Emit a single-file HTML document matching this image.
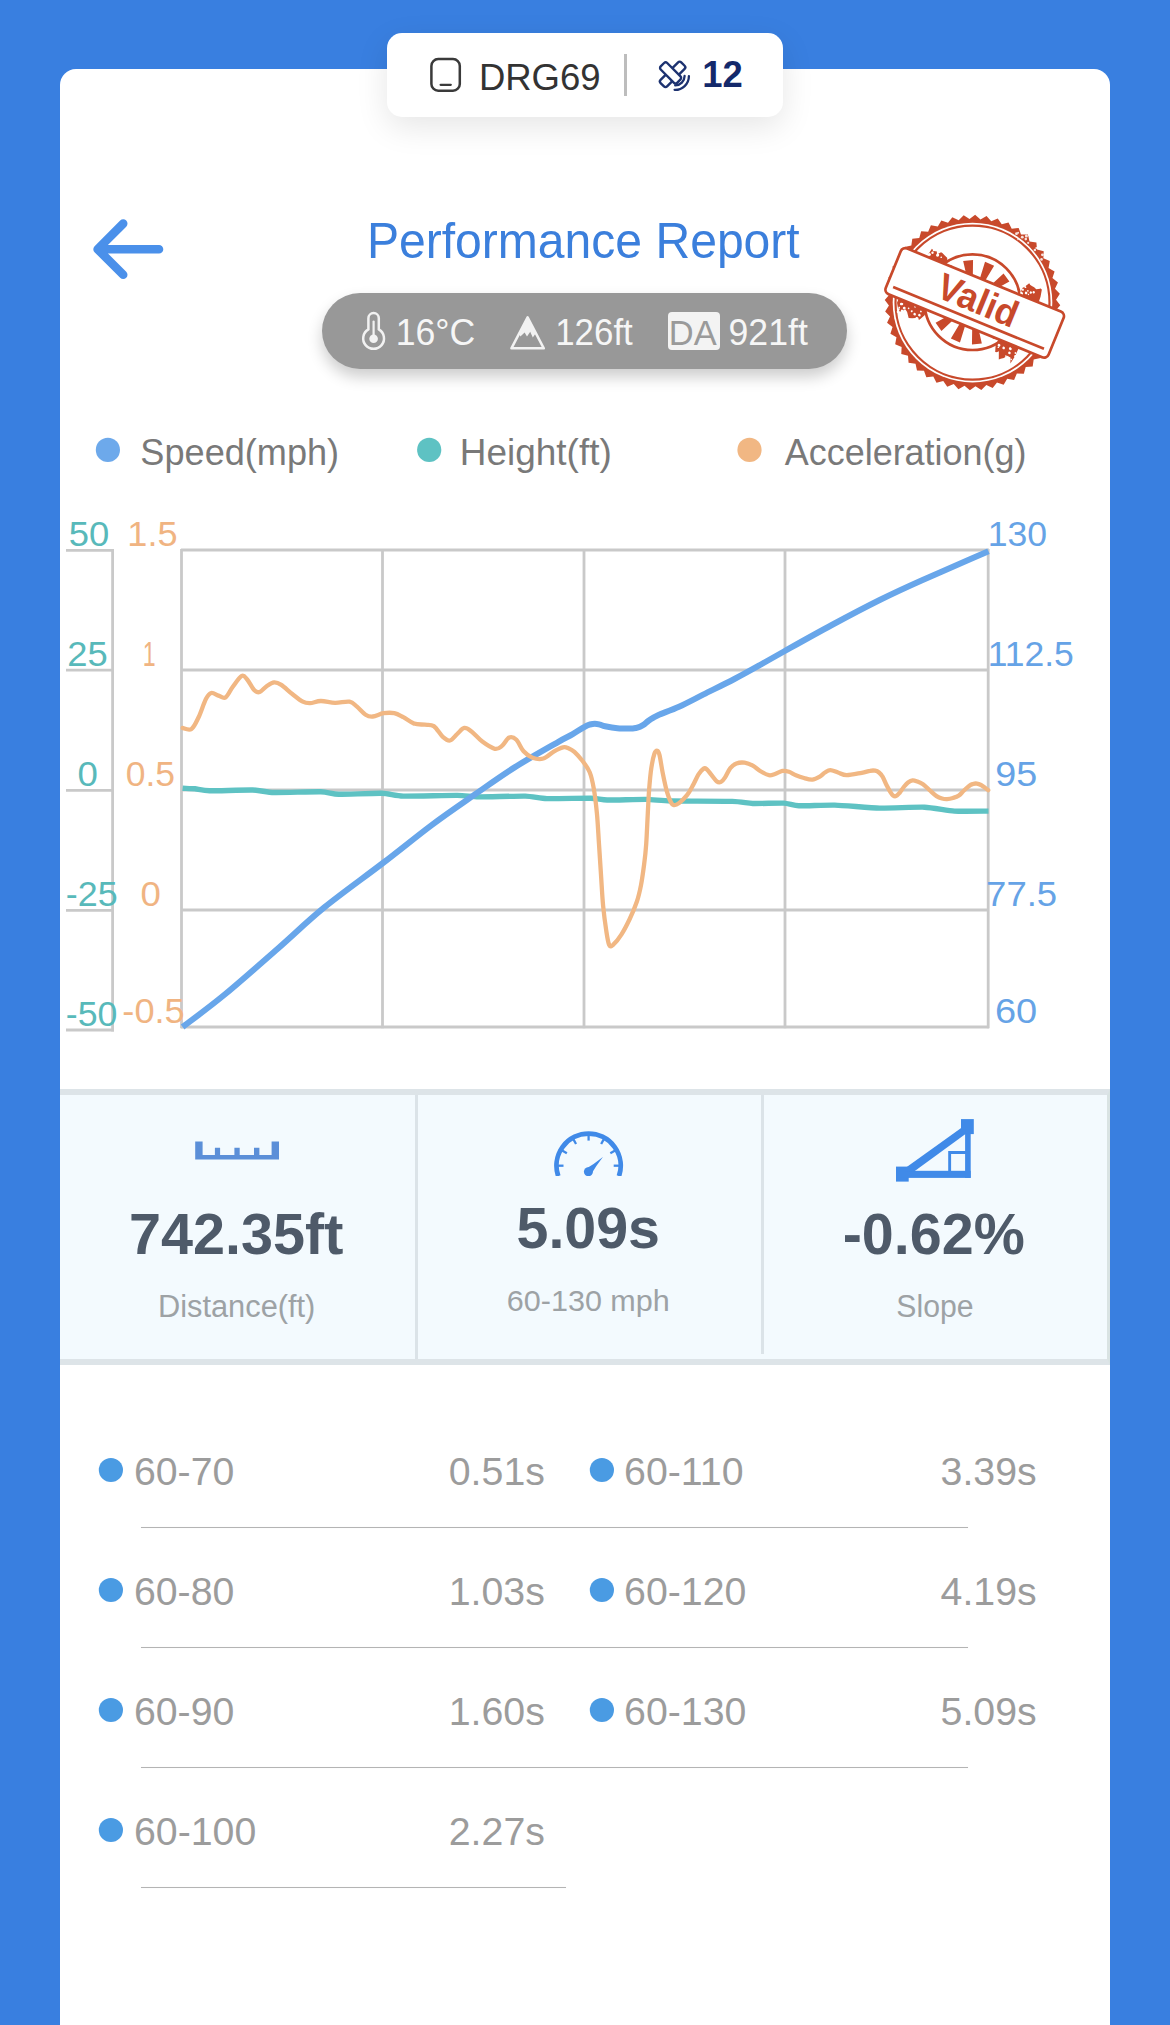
<!DOCTYPE html>
<html lang="en">
<head>
<meta charset="utf-8">
<title>Performance Report</title>
<style>
  html, body { margin: 0; padding: 0; }
  body {
    width: 1170px; height: 2025px; overflow: hidden; position: relative;
    background: #397fe0;
    font-family: "Liberation Sans", sans-serif;
  }
  .card {
    position: absolute; left: 60px; top: 69px; width: 1050px; height: 1960px;
    background: #ffffff; border-radius: 16px 16px 0 0;
  }
  .device-pill {
    position: absolute; left: 387px; top: 33px; width: 396px; height: 84px;
    background: #ffffff; border-radius: 15px;
    box-shadow: 0 10px 32px rgba(0, 0, 0, 0.10);
  }
  .device-pill .sep {
    position: absolute; left: 237px; top: 21px; width: 3px; height: 42px; background: #bdbdbd;
  }
  .env-pill {
    position: absolute; left: 322px; top: 293px; width: 525px; height: 76px;
    background: #989898; border-radius: 38px;
    box-shadow: 0 8px 15px rgba(0, 0, 0, 0.20);
  }
  .env-pill .da {
    position: absolute; left: 346px; top: 19px; width: 52px; height: 38px;
    background: #f3f3f3; border-radius: 4px;
  }
  .stats {
    position: absolute; left: 60px; top: 1089px; width: 1047px; height: 264px;
    background: #f3fafe;
    border-top: 6px solid #dde4e8; border-bottom: 6px solid #dde4e8; border-right: 3px solid #d9e3e3;
  }
  .stats .vsep { position: absolute; top: 0; width: 3px; background: #dbe3e8; }
  .row-sep { position: absolute; height: 1px; background: #b4b4b4; box-shadow: 0 0 1px rgba(0,0,0,0.10); }
  svg.overlay { position: absolute; left: 0; top: 0; }
  svg text { font-family: "Liberation Sans", sans-serif; }
</style>
</head>
<body>
  <div class="card"></div>
  <div class="device-pill"><div class="sep"></div></div>
  <div class="env-pill"><div class="da"></div></div>
  <div class="stats">
    <div class="vsep" style="left:355px;height:264px"></div>
    <div class="vsep" style="left:701px;height:259px"></div>
  </div>
  <div class="row-sep" style="left:141px;top:1527px;width:827px"></div>
  <div class="row-sep" style="left:141px;top:1647px;width:827px"></div>
  <div class="row-sep" style="left:141px;top:1767px;width:827px"></div>
  <div class="row-sep" style="left:141px;top:1887px;width:425px"></div>

  <svg class="overlay" width="1170" height="2025" viewBox="0 0 1170 2025">
    <!-- chart -->
    <line x1="181.5" y1="549" x2="181.5" y2="1028.2" stroke="#c9c9c9" stroke-width="2.8"/>
    <line x1="382.5" y1="549" x2="382.5" y2="1028.2" stroke="#c9c9c9" stroke-width="2.8"/>
    <line x1="584" y1="549" x2="584" y2="1028.2" stroke="#c9c9c9" stroke-width="2.8"/>
    <line x1="785" y1="549" x2="785" y2="1028.2" stroke="#c9c9c9" stroke-width="2.8"/>
    <line x1="988.2" y1="549" x2="988.2" y2="1028.2" stroke="#c9c9c9" stroke-width="2.8"/>
    <line x1="181" y1="550" x2="989" y2="550" stroke="#c9c9c9" stroke-width="2.8"/>
    <line x1="181" y1="670" x2="989" y2="670" stroke="#c9c9c9" stroke-width="2.8"/>
    <line x1="181" y1="790" x2="989" y2="790" stroke="#c9c9c9" stroke-width="2.8"/>
    <line x1="181" y1="910" x2="989" y2="910" stroke="#c9c9c9" stroke-width="2.8"/>
    <line x1="181" y1="1027" x2="989" y2="1027" stroke="#c9c9c9" stroke-width="2.8"/>
    <line x1="112.6" y1="549" x2="112.6" y2="1031.4" stroke="#c9c9c9" stroke-width="2.8"/>
    <line x1="66" y1="550.4" x2="114" y2="550.4" stroke="#c9c9c9" stroke-width="2.8"/>
    <line x1="66" y1="670.2" x2="114" y2="670.2" stroke="#c9c9c9" stroke-width="2.8"/>
    <line x1="66" y1="790.3" x2="114" y2="790.3" stroke="#c9c9c9" stroke-width="2.8"/>
    <line x1="66" y1="910.4" x2="114" y2="910.4" stroke="#c9c9c9" stroke-width="2.8"/>
    <line x1="66" y1="1030.0" x2="114" y2="1030.0" stroke="#c9c9c9" stroke-width="2.8"/>
    <path d="M182.6,788.2 C183.8,788.3 192.3,788.5 195.0,788.8 C197.7,789.1 203.7,790.7 209.5,790.8 C215.3,790.9 246.2,789.8 252.6,790.0 C259.1,790.2 267.2,792.3 274.0,792.5 C280.8,792.7 314.3,791.6 320.8,791.8 C327.3,792.0 332.6,794.1 338.7,794.3 C344.8,794.4 375.3,793.1 381.8,793.3 C388.3,793.5 395.8,795.9 403.3,796.1 C410.8,796.3 449.7,795.3 457.2,795.4 C464.7,795.5 471.9,796.8 478.7,796.9 C485.5,797.0 518.5,795.9 525.3,796.1 C532.1,796.3 540.4,798.4 546.9,798.6 C553.4,798.8 584.8,798.1 590.8,798.2 C596.8,798.3 601.7,799.9 607.2,800.0 C612.7,800.1 639.6,799.3 646.0,799.4 C652.4,799.5 662.2,800.8 670.8,801.0 C679.4,801.2 724.1,801.1 732.3,801.4 C740.5,801.6 747.7,803.3 752.8,803.5 C757.9,803.7 779.0,802.9 783.6,803.1 C788.2,803.3 793.8,805.5 798.9,805.7 C804.0,805.9 826.7,804.9 834.8,805.1 C842.9,805.3 870.7,807.9 879.7,808.1 C888.7,808.3 917.0,806.9 924.5,807.2 C932.0,807.5 948.0,810.7 954.4,811.1 C960.8,811.5 985.1,811.1 988.5,811.1" fill="none" stroke="#5ec2c3" stroke-width="5.4" stroke-linejoin="round"/>
    <path d="M182.6,1027.0 C189.5,1021.7 208.0,1008.3 223.8,995.3 C239.7,982.2 260.9,963.4 277.7,948.7 C294.4,934.1 306.6,921.8 324.3,907.4 C342.0,893.0 365.7,876.3 383.6,862.5 C401.6,848.7 416.8,836.2 432.0,824.8 C447.2,813.4 461.3,803.9 475.1,794.3 C488.9,784.7 500.9,776.1 514.6,767.4 C528.4,758.7 548.0,747.8 557.6,742.3 C567.2,736.8 567.8,737.0 572.3,734.4 C576.8,731.8 581.6,728.4 584.6,726.8 C587.6,725.1 588.3,725.0 590.0,724.5 C591.7,724.0 593.2,723.7 594.9,723.7 C596.6,723.7 598.3,724.2 600.0,724.6 C601.7,725.0 602.2,725.6 605.1,726.2 C608.0,726.8 613.3,727.8 617.4,728.2 C621.5,728.6 626.6,728.6 629.7,728.6 C632.8,728.6 634.3,728.3 636.0,728.0 C637.7,727.7 638.7,727.4 640.0,726.8 C641.3,726.2 642.6,725.5 644.0,724.5 C645.4,723.5 646.7,722.1 648.2,721.0 C649.7,719.9 651.3,718.8 653.0,717.8 C654.7,716.8 654.2,716.8 658.5,714.9 C662.8,713.0 671.5,710.1 679.0,706.7 C686.5,703.3 694.4,699.0 703.6,694.4 C712.8,689.8 725.0,683.9 734.4,679.0 C743.8,674.1 751.8,669.6 760.0,665.0 C768.2,660.4 771.9,658.2 783.9,651.5 C795.9,644.8 815.8,633.6 831.8,625.0 C847.8,616.4 864.8,607.4 879.7,600.0 C894.7,592.6 906.5,587.2 921.5,580.5 C936.5,573.8 958.2,564.4 969.4,559.5 C980.6,554.6 985.3,552.6 988.5,551.2" fill="none" stroke="#68a6ea" stroke-width="6" stroke-linejoin="round"/>
    <path d="M182.6,728.0 C184.1,728.2 188.8,730.8 191.5,729.0 C194.2,727.2 196.3,722.0 198.7,717.0 C201.1,712.0 203.8,703.0 205.9,699.0 C208.0,695.0 209.2,693.6 211.3,693.0 C213.4,692.4 216.1,694.9 218.5,695.6 C220.9,696.3 223.2,698.9 225.6,697.4 C228.0,695.9 230.1,690.3 232.8,686.7 C235.5,683.1 239.4,677.1 241.8,675.9 C244.2,674.7 245.1,677.1 247.2,679.5 C249.3,681.9 252.3,688.2 254.4,690.3 C256.5,692.4 257.6,692.7 259.7,692.0 C261.8,691.3 264.5,687.6 266.9,686.0 C269.3,684.4 271.7,682.6 274.1,682.4 C276.5,682.2 278.3,683.0 281.3,684.9 C284.3,686.8 288.4,691.0 292.0,693.8 C295.6,696.6 299.8,700.1 302.8,701.7 C305.8,703.3 307.0,703.3 310.0,703.2 C313.0,703.1 316.6,701.1 320.8,701.0 C325.0,700.9 330.3,702.7 335.1,702.8 C339.9,702.9 345.9,701.1 349.5,701.7 C353.1,702.3 354.0,704.2 356.7,706.4 C359.4,708.6 362.9,713.0 365.6,714.7 C368.3,716.4 369.8,716.8 372.8,716.5 C375.8,716.2 380.0,713.8 383.6,713.2 C387.2,712.7 391.0,712.5 394.3,713.2 C397.6,713.9 400.0,715.5 403.3,717.2 C406.6,718.9 410.5,722.4 414.1,723.6 C417.7,724.9 421.6,724.3 424.9,724.7 C428.2,725.1 430.8,724.1 433.8,726.1 C436.8,728.1 440.1,734.5 442.8,736.9 C445.5,739.3 447.6,741.0 450.0,740.5 C452.4,740.0 454.8,736.1 457.2,734.0 C459.6,731.9 461.9,728.3 464.3,727.9 C466.7,727.5 468.5,729.2 471.5,731.5 C474.5,733.8 478.4,738.7 482.3,741.6 C486.2,744.5 491.5,748.1 494.8,748.8 C498.1,749.5 499.6,747.8 502.0,745.9 C504.4,744.0 506.8,738.6 509.2,737.6 C511.6,736.6 514.0,737.5 516.4,739.8 C518.8,742.1 520.9,748.3 523.6,751.3 C526.3,754.3 529.2,756.5 532.5,757.7 C535.8,758.9 539.7,759.6 543.3,758.5 C546.9,757.4 550.8,753.2 554.1,751.3 C557.4,749.4 560.7,747.8 563.0,747.3 C565.3,746.8 566.1,747.2 568.0,748.0 C569.9,748.8 572.0,749.6 574.4,751.8 C576.8,754.0 580.0,757.6 582.6,761.0 C585.2,764.4 587.8,767.7 589.7,772.3 C591.6,776.9 592.6,781.9 593.8,788.7 C595.0,795.5 596.0,804.1 596.9,813.3 C597.8,822.5 598.3,833.8 599.0,844.1 C599.7,854.4 600.3,864.6 601.0,874.9 C601.7,885.1 602.2,896.4 603.1,905.6 C604.0,914.8 605.2,923.7 606.2,930.3 C607.2,936.9 608.0,942.6 609.2,945.0 C610.4,947.4 611.2,946.4 613.3,944.6 C615.3,942.8 618.8,938.7 621.5,934.4 C624.2,930.1 627.1,924.5 629.7,919.0 C632.3,913.5 635.0,907.1 636.9,901.5 C638.8,895.9 639.8,891.2 641.0,885.1 C642.2,879.0 643.2,871.4 644.1,864.6 C645.0,857.8 645.6,852.7 646.2,844.1 C646.8,835.5 647.3,822.5 647.8,813.3 C648.3,804.1 648.6,796.2 649.2,788.7 C649.8,781.2 650.4,774.0 651.3,768.2 C652.2,762.4 653.4,756.7 654.4,753.8 C655.4,750.9 656.5,750.6 657.4,750.8 C658.2,751.0 658.6,751.3 659.5,754.9 C660.4,758.5 661.4,766.3 662.6,772.3 C663.8,778.3 665.3,785.8 666.7,790.8 C668.1,795.8 669.6,799.6 670.8,802.0 C672.0,804.4 672.4,804.9 673.8,805.1 C675.2,805.3 676.8,804.8 679.0,803.1 C681.2,801.4 684.8,798.0 687.2,794.9 C689.6,791.8 691.4,788.0 693.3,784.6 C695.2,781.2 696.8,777.1 698.5,774.4 C700.2,771.7 702.2,769.5 703.6,768.6 C705.0,767.7 705.3,768.1 706.7,769.2 C708.1,770.3 710.1,773.4 711.8,775.4 C713.5,777.4 715.4,780.4 716.9,781.5 C718.4,782.6 719.6,782.6 721.0,781.9 C722.4,781.2 723.6,779.7 725.1,777.4 C726.6,775.1 728.4,770.5 730.3,768.2 C732.2,765.9 734.0,764.4 736.4,763.5 C738.8,762.6 741.9,762.3 744.6,762.7 C747.3,763.1 750.1,764.2 752.8,765.7 C755.5,767.2 758.3,769.9 761.0,771.5 C763.7,773.1 766.7,774.8 769.0,775.2 C771.3,775.6 772.8,774.7 775.0,774.0 C777.2,773.3 780.1,771.3 782.4,770.9 C784.7,770.5 786.8,771.1 789.0,771.8 C791.2,772.5 793.4,774.2 795.9,775.2 C798.4,776.2 801.3,777.2 804.0,778.0 C806.7,778.8 809.7,779.9 812.3,779.7 C814.9,779.5 817.7,777.9 819.8,776.7 C821.9,775.5 823.2,773.6 825.0,772.5 C826.8,771.4 828.1,770.1 830.3,770.1 C832.5,770.1 835.3,771.6 838.0,772.5 C840.7,773.4 842.8,775.2 846.7,775.2 C850.7,775.2 857.8,773.5 861.7,772.8 C865.6,772.1 867.8,771.1 870.0,770.8 C872.2,770.4 873.7,770.4 875.2,770.7 C876.7,771.0 877.8,771.5 879.0,772.5 C880.2,773.5 881.4,774.6 882.6,776.7 C883.9,778.8 885.2,782.5 886.5,785.0 C887.8,787.5 889.0,790.0 890.1,791.7 C891.2,793.5 892.0,794.8 893.0,795.5 C894.0,796.2 895.0,796.5 896.1,796.1 C897.2,795.7 898.2,794.5 899.5,793.0 C900.8,791.5 902.2,789.0 903.6,787.2 C905.0,785.5 906.5,783.6 908.0,782.5 C909.5,781.4 911.0,780.5 912.6,780.3 C914.2,780.1 915.8,780.9 917.5,781.5 C919.2,782.1 920.9,782.7 923.0,784.2 C925.1,785.7 927.8,788.5 930.0,790.5 C932.2,792.5 934.5,794.8 936.5,796.1 C938.5,797.4 940.2,798.0 942.0,798.5 C943.8,799.0 945.2,799.2 947.0,799.1 C948.8,799.0 951.0,798.6 953.0,798.0 C955.0,797.4 957.1,796.8 958.9,795.5 C960.7,794.2 962.2,792.1 964.0,790.5 C965.8,788.9 967.9,786.8 969.4,785.7 C970.9,784.6 971.8,784.4 973.0,784.0 C974.2,783.6 975.6,783.4 976.9,783.6 C978.2,783.8 979.8,784.4 981.0,785.0 C982.2,785.6 983.1,786.3 984.3,787.2 C985.5,788.1 987.6,789.7 988.2,790.2" fill="none" stroke="#f1b783" stroke-width="4.3" stroke-linejoin="round" stroke-linecap="round"/>
    <!-- icons -->
    <path d="M159,249.2 H98.5 M123.2,223.6 L97.6,249.2 L123.2,274.8" fill="none" stroke="#4a90ea" stroke-width="8.6" stroke-linecap="round" stroke-linejoin="round"/>
    <rect x="431.4" y="59.1" width="28.4" height="31.6" rx="6.8" ry="6.8" fill="none" stroke="#3a3a3a" stroke-width="2.5"/>
    <line x1="440.6" y1="84.8" x2="450.8" y2="84.8" stroke="#3a3a3a" stroke-width="2.2" stroke-linecap="round"/>
    <g fill="#ffffff" stroke="#1d3270" stroke-width="2.4" stroke-linejoin="round"><rect x="-14.6" y="-4.6" width="29.2" height="9.2" rx="2.2" transform="translate(672.6,74.4) rotate(-45)"/><rect x="-11.6" y="-4.6" width="23.2" height="9.2" rx="2.2" transform="translate(670.6,72.9) rotate(45)"/></g>
    <path d="M684.6,76.0 A9.4,9.4 0 0 1 675.2,85.4" fill="none" stroke="#1d3270" stroke-width="2.3" stroke-linecap="round"/>
    <path d="M688.9,76.2 A13.8,13.8 0 0 1 674.6,89.9" fill="none" stroke="#1d3270" stroke-width="2.3" stroke-linecap="round"/>
    <path d="M368.4,318.2 a5.2,5.2 0 0 1 10.4,0 V329.4 a10.4,10.4 0 1 1 -10.4,0 Z" fill="none" stroke="#f2f2f2" stroke-width="2.5"/>
    <line x1="373.6" y1="321.5" x2="373.6" y2="337" stroke="#f2f2f2" stroke-width="2.2" stroke-linecap="round"/>
    <circle cx="373.6" cy="338.8" r="4.3" fill="#f2f2f2"/>
    <path d="M527.6,317.4 L543.8,348.3 H511.4 Z" fill="none" stroke="#f2f2f2" stroke-width="2.5" stroke-linejoin="round"/>
    <path d="M527.6,317.4 L535.6,333.6 L532.8,337.6 L530.2,331.8 L527.0,336.6 L524.6,332.6 L520.4,336.4 L519.2,333.4 Z" fill="#f2f2f2"/>
    <circle cx="107.9" cy="449.9" r="12.1" fill="#6da9eb"/>
    <circle cx="429.2" cy="449.9" r="12.1" fill="#5ec2c3"/>
    <circle cx="749.5" cy="449.9" r="12.1" fill="#f1b783"/>
    <circle cx="110.9" cy="1470" r="12.1" fill="#4a9be3"/>
    <circle cx="110.9" cy="1590" r="12.1" fill="#4a9be3"/>
    <circle cx="110.9" cy="1710" r="12.1" fill="#4a9be3"/>
    <circle cx="110.9" cy="1830" r="12.1" fill="#4a9be3"/>
    <circle cx="601.9" cy="1470" r="12.1" fill="#4a9be3"/>
    <circle cx="601.9" cy="1590" r="12.1" fill="#4a9be3"/>
    <circle cx="601.9" cy="1710" r="12.1" fill="#4a9be3"/>
    <path d="M195.2,1141.5 h7.4 v13.4 h12.3 v-7.2 h5.2 v7.2 h14.3 v-7.2 h5.3 v7.2 h14.3 v-7.2 h5.4 v7.2 h12.2 v-13.4 h7.4 v18 h-83.8 Z" fill="#5b8fd8"/>
    <clipPath id="spd"><rect x="540" y="1120" width="100" height="56"/></clipPath>
    <g clip-path="url(#spd)"><path d="M558.25,1176.15 A32.1,32.1 0 1 1 618.95,1176.15" fill="none" stroke="#408ae8" stroke-width="4.8"/><line x1="619.20" y1="1165.70" x2="613.70" y2="1165.70" stroke="#408ae8" stroke-width="2.3"/><line x1="615.10" y1="1150.40" x2="610.34" y2="1153.15" stroke="#408ae8" stroke-width="2.3"/><line x1="603.90" y1="1139.20" x2="601.15" y2="1143.96" stroke="#408ae8" stroke-width="2.3"/><line x1="588.60" y1="1135.10" x2="588.60" y2="1140.60" stroke="#408ae8" stroke-width="2.3"/><line x1="573.30" y1="1139.20" x2="576.05" y2="1143.96" stroke="#408ae8" stroke-width="2.3"/><line x1="562.10" y1="1150.40" x2="566.86" y2="1153.15" stroke="#408ae8" stroke-width="2.3"/><line x1="558.00" y1="1165.70" x2="563.50" y2="1165.70" stroke="#408ae8" stroke-width="2.3"/><circle cx="588.4" cy="1171.8" r="4.5" fill="#408ae8"/><path d="M585.6,1168.9 Q594.2,1164.2 602.9,1157.1 Q596,1166 591.0,1174.6 Z" fill="#408ae8"/></g>
    <g fill="#408ae8"><rect x="896" y="1166.6" width="12.7" height="15"/><rect x="961" y="1119.1" width="12.8" height="15"/><rect x="896" y="1170.8" width="74.7" height="7.1"/><rect x="965.1" y="1126" width="5.6" height="51.9"/><path d="M906.4,1167.2 L962.2,1127.2 L966.2,1133.4 L914.8,1171 L905,1172 Z"/><path d="M948.2,1151 H966 V1154 H951.1 V1172 H948.2 Z"/></g>
    <!-- stamp -->
    <g transform="translate(972.5,302.6)"><polygon points="87.76,2.63 83.22,7.97 86.67,14.07 81.47,18.76 84.09,25.26 78.32,29.23 80.07,36.02 73.84,39.21 74.69,46.16 68.09,48.51 68.02,55.51 61.17,56.98 60.19,63.92 53.21,64.48 51.34,71.23 44.34,70.87 41.60,77.32 34.71,76.05 31.15,82.09 24.49,79.93 20.17,85.45 13.84,82.45 8.84,87.35 2.96,83.55 -2.63,87.76 -7.97,83.22 -14.07,86.67 -18.76,81.47 -25.26,84.09 -29.23,78.32 -36.02,80.07 -39.21,73.84 -46.16,74.69 -48.51,68.09 -55.51,68.02 -56.98,61.17 -63.92,60.19 -64.48,53.21 -71.23,51.34 -70.87,44.34 -77.32,41.60 -76.05,34.71 -82.09,31.15 -79.93,24.49 -85.45,20.17 -82.45,13.84 -87.35,8.84 -83.55,2.96 -87.76,-2.63 -83.22,-7.97 -86.67,-14.07 -81.47,-18.76 -84.09,-25.26 -78.32,-29.23 -80.07,-36.02 -73.84,-39.21 -74.69,-46.16 -68.09,-48.51 -68.02,-55.51 -61.17,-56.98 -60.19,-63.92 -53.21,-64.48 -51.34,-71.23 -44.34,-70.87 -41.60,-77.32 -34.71,-76.05 -31.15,-82.09 -24.49,-79.93 -20.17,-85.45 -13.84,-82.45 -8.84,-87.35 -2.96,-83.55 2.63,-87.76 7.97,-83.22 14.07,-86.67 18.76,-81.47 25.26,-84.09 29.23,-78.32 36.02,-80.07 39.21,-73.84 46.16,-74.69 48.51,-68.09 55.51,-68.02 56.98,-61.17 63.92,-60.19 64.48,-53.21 71.23,-51.34 70.87,-44.34 77.32,-41.60 76.05,-34.71 82.09,-31.15 79.93,-24.49 85.45,-20.17 82.45,-13.84 87.35,-8.84 83.55,-2.96" fill="#c8492b"/><circle r="79.8" fill="#ffffff"/><circle r="77" fill="none" stroke="#c8492b" stroke-width="2.2"/><circle cx="0.0" cy="-0.4" r="47.8" fill="none" stroke="#c8492b" stroke-width="2.7"/><path d="M18.54,-4.54 L41.26,-9.74 L42.30,0.16 L19.00,-0.20Z M18.13,5.29 L40.40,12.14 L36.35,21.23 L16.36,9.27Z M12.86,13.59 L28.72,30.66 L20.66,36.51 L9.33,16.15Z M4.14,18.14 L9.34,40.86 L-0.56,41.90 L-0.20,18.60Z M-5.69,17.73 L-12.54,40.00 L-21.63,35.95 L-9.67,15.96Z M-13.99,12.46 L-31.06,28.32 L-36.91,20.26 L-16.55,8.93Z M-18.54,3.74 L-41.26,8.94 L-42.30,-0.96 L-19.00,-0.60Z M-18.13,-6.09 L-40.40,-12.94 L-36.35,-22.03 L-16.36,-10.07Z M-12.86,-14.39 L-28.72,-31.46 L-20.66,-37.31 L-9.33,-16.95Z M-4.14,-18.94 L-9.34,-41.66 L0.56,-42.70 L0.20,-19.40Z M5.69,-18.53 L12.54,-40.80 L21.63,-36.75 L9.67,-16.76Z M13.99,-13.26 L31.06,-29.12 L36.91,-21.06 L16.55,-9.73Z" fill="#c8492b"/><g fill="#c8492b" transform="translate(2.2,0.3) rotate(22.3)"><path d="M-62.0,-24.0 L-61.4,-27.7 L-60.1,-33.8 L-57.4,-32.5 L-54.5,-33.3 L-53.4,-30.5 L-50.4,-34.2 L-48.8,-33.8 L-45.3,-32.3 L-42.6,-31.2 L-41.8,-29.8 L-41.0,-24.0Z"/><path d="M38.0,-24.0 L38.7,-32.6 L39.7,-33.2 L43.0,-38.8 L44.7,-37.6 L47.5,-37.2 L49.1,-37.0 L51.8,-35.9 L55.1,-38.0 L56.7,-39.6 L58.6,-30.6 L59.0,-24.0Z"/><path d="M-72.0,24.0 L-71.9,29.4 L-68.5,34.7 L-66.0,36.5 L-61.5,32.3 L-59.1,34.0 L-55.4,39.0 L-52.0,37.9 L-49.2,36.6 L-44.7,36.5 L-41.6,30.5 L-42.0,24.0Z"/><path d="M36.0,24.0 L35.4,31.2 L37.9,38.6 L40.7,35.6 L43.8,43.3 L45.3,41.9 L47.9,39.8 L50.0,36.6 L53.8,36.9 L56.0,42.5 L57.5,34.0 L58.0,24.0Z"/><g fill="#ffffff"><circle cx="-52.5" cy="-30.0" r="1.4"/><circle cx="-52.2" cy="-30.4" r="1.2"/><circle cx="-58.1" cy="-30.4" r="1.2"/><circle cx="-45.3" cy="-34.2" r="0.9"/><circle cx="-60.1" cy="-27.7" r="1.3"/><circle cx="-61.1" cy="-26.2" r="1.5"/><circle cx="-48.3" cy="-29.5" r="0.8"/><circle cx="-61.7" cy="-30.2" r="0.7"/><circle cx="-58.0" cy="-32.8" r="0.7"/><circle cx="48.0" cy="-30.8" r="1.2"/><circle cx="41.0" cy="-39.8" r="1.0"/><circle cx="43.8" cy="-28.7" r="1.3"/><circle cx="50.6" cy="-32.2" r="1.2"/><circle cx="41.1" cy="-33.8" r="0.8"/><circle cx="57.0" cy="-39.2" r="1.4"/><circle cx="39.6" cy="-30.4" r="1.0"/><circle cx="46.5" cy="-28.2" r="0.7"/><circle cx="39.3" cy="-27.2" r="1.1"/><circle cx="39.9" cy="-26.2" r="1.5"/><circle cx="40.4" cy="-34.1" r="0.8"/><circle cx="44.6" cy="-31.3" r="0.8"/><circle cx="-64.2" cy="34.9" r="1.2"/><circle cx="-46.5" cy="28.4" r="0.9"/><circle cx="-67.6" cy="28.9" r="1.3"/><circle cx="-68.1" cy="32.9" r="0.9"/><circle cx="-63.2" cy="31.6" r="1.4"/><circle cx="-53.7" cy="26.2" r="0.9"/><circle cx="-67.6" cy="37.3" r="1.3"/><circle cx="-47.8" cy="36.7" r="1.3"/><circle cx="-43.5" cy="36.3" r="0.9"/><circle cx="-46.5" cy="32.3" r="1.3"/><circle cx="-55.1" cy="31.6" r="1.0"/><circle cx="-59.1" cy="30.1" r="0.8"/><circle cx="-47.4" cy="36.4" r="1.5"/><circle cx="-51.3" cy="33.2" r="1.3"/><circle cx="-68.0" cy="34.8" r="1.1"/><circle cx="-66.7" cy="28.6" r="1.1"/><circle cx="38.4" cy="38.6" r="1.2"/><circle cx="56.7" cy="30.9" r="0.9"/><circle cx="52.1" cy="37.9" r="0.9"/><circle cx="51.1" cy="33.1" r="1.3"/><circle cx="38.6" cy="30.0" r="1.4"/><circle cx="43.9" cy="30.7" r="1.3"/><circle cx="49.9" cy="28.7" r="1.1"/><circle cx="50.6" cy="29.0" r="1.2"/><circle cx="38.7" cy="32.1" r="0.8"/><circle cx="40.5" cy="43.6" r="1.0"/><circle cx="57.8" cy="33.9" r="1.2"/><circle cx="55.2" cy="38.4" r="0.8"/><circle cx="49.0" cy="37.4" r="0.8"/><circle cx="38.1" cy="41.7" r="1.1"/></g></g><g fill="#ffffff" opacity="0.85"><circle cx="43.3" cy="-49.3" r="1.2"/><circle cx="53.3" cy="-63.5" r="1.3"/><circle cx="63.9" cy="-54.6" r="1.1"/><circle cx="45.6" cy="-69.9" r="1.0"/><circle cx="56.7" cy="-67.9" r="1.3"/><circle cx="45.4" cy="-63.0" r="0.7"/><circle cx="69.9" cy="-47.8" r="1.4"/><circle cx="57.7" cy="-69.0" r="1.0"/><circle cx="53.9" cy="-66.5" r="1.5"/><circle cx="49.8" cy="-65.4" r="1.4"/><circle cx="42.0" cy="-42.2" r="1.1"/><circle cx="55.7" cy="-59.7" r="1.1"/><circle cx="44.0" cy="-68.9" r="1.4"/><circle cx="45.5" cy="-46.6" r="0.9"/><circle cx="69.0" cy="-43.2" r="1.3"/><circle cx="62.4" cy="-52.6" r="1.3"/></g><g transform="translate(2.2,0.3) rotate(22.3)"><rect x="-88" y="-24.65" width="176" height="49.3" rx="5" fill="#ffffff" stroke="#c8492b" stroke-width="2.7"/><line x1="-81.5" y1="16.2" x2="81.5" y2="16.2" stroke="#c8492b" stroke-width="2.7"/><text x="2" y="9.2" font-size="37.4" font-weight="700" text-anchor="middle" textLength="84" lengthAdjust="spacingAndGlyphs" fill="#c8492b">Valid</text></g></g>
    <!-- texts -->
    <text x="478.88" y="89.90" font-size="36.5" fill="#333333">DRG69</text>
    <text x="702.21" y="86.60" font-size="36.4" fill="#14296b" font-weight="700">12</text>
    <text transform="translate(366.95,257.50) scale(0.9652,1)" font-size="49.8" fill="#3b7fdc">Performance Report</text>
    <text transform="translate(395.63,345.40) scale(0.9851,1)" font-size="36.2" fill="#f6f6f6">16°C</text>
    <text transform="translate(555.18,345.40) scale(0.9643,1)" font-size="36.2" fill="#f6f6f6">126ft</text>
    <text transform="translate(668.74,345.30) scale(0.9713,1)" font-size="35.5" fill="#9a9a9a">DA</text>
    <text transform="translate(728.49,345.40) scale(0.9853,1)" font-size="36.2" fill="#f6f6f6">921ft</text>
    <text transform="translate(140.37,464.50) scale(0.9925,1)" font-size="36.4" fill="#797979">Speed(mph)</text>
    <text transform="translate(459.84,464.50) scale(1.0152,1)" font-size="36.4" fill="#797979">Height(ft)</text>
    <text transform="translate(784.80,464.50) scale(0.9875,1)" font-size="36.4" fill="#797979">Acceleration(g)</text>
    <text transform="translate(68.74,546.00) scale(1.0497,1)" font-size="34.7" fill="#58b9ba">50</text>
    <text transform="translate(67.18,665.80) scale(1.0482,1)" font-size="34.7" fill="#58b9ba">25</text>
    <text transform="translate(77.43,786.20) scale(1.0567,1)" font-size="34.7" fill="#58b9ba">0</text>
    <text transform="translate(65.79,906.00) scale(1.0341,1)" font-size="34.7" fill="#58b9ba">-25</text>
    <text transform="translate(65.79,1026.00) scale(1.0303,1)" font-size="34.7" fill="#58b9ba">-50</text>
    <text transform="translate(127.29,546.00) scale(1.0420,1)" font-size="34.7" fill="#f0b482">1.5</text>
    <text transform="translate(142.66,665.80) scale(0.6691,1)" font-size="34.7" fill="#f0b482">1</text>
    <text transform="translate(125.78,786.00) scale(1.0229,1)" font-size="34.7" fill="#f0b482">0.5</text>
    <text transform="translate(140.53,906.00) scale(1.0567,1)" font-size="34.7" fill="#f0b482">0</text>
    <text transform="translate(122.37,1023.30) scale(1.0435,1)" font-size="34.7" fill="#f0b482">-0.5</text>
    <text transform="translate(987.63,545.90) scale(1.0249,1)" font-size="34.7" fill="#66a3e6">130</text>
    <text transform="translate(987.64,665.90) scale(1.0230,1)" font-size="34.7" fill="#66a3e6">112.5</text>
    <text transform="translate(995.20,786.00) scale(1.0881,1)" font-size="34.7" fill="#66a3e6">95</text>
    <text transform="translate(986.08,905.90) scale(1.0518,1)" font-size="34.7" fill="#66a3e6">77.5</text>
    <text transform="translate(995.00,1023.10) scale(1.0937,1)" font-size="34.7" fill="#66a3e6">60</text>
    <text transform="translate(129.00,1254.00) scale(1.0101,1)" font-size="57" fill="#4e5a69" font-weight="700">742.35ft</text>
    <text x="157.94" y="1316.60" font-size="30.8" fill="#9da2a5">Distance(ft)</text>
    <text transform="translate(516.48,1248.10) scale(1.0064,1)" font-size="57" fill="#4e5a69" font-weight="700">5.09s</text>
    <text transform="translate(506.77,1310.60) scale(1.0051,1)" font-size="30.4" fill="#9da2a5">60-130 mph</text>
    <text transform="translate(842.70,1254.00) scale(1.0086,1)" font-size="57" fill="#4e5a69" font-weight="700">-0.62%</text>
    <text transform="translate(896.34,1316.60) scale(0.9813,1)" font-size="30.8" fill="#9da2a5">Slope</text>
    <text transform="translate(133.94,1485.10) scale(1.0146,1)" font-size="38.7" fill="#9c9c9c">60-70</text>
    <text transform="translate(448.75,1485.10) scale(1.0159,1)" font-size="38.7" fill="#9c9c9c">0.51s</text>
    <text transform="translate(133.94,1605.10) scale(1.0146,1)" font-size="38.7" fill="#9c9c9c">60-80</text>
    <text transform="translate(448.70,1605.10) scale(1.0164,1)" font-size="38.7" fill="#9c9c9c">1.03s</text>
    <text transform="translate(133.94,1725.10) scale(1.0146,1)" font-size="38.7" fill="#9c9c9c">60-90</text>
    <text transform="translate(448.70,1725.10) scale(1.0164,1)" font-size="38.7" fill="#9c9c9c">1.60s</text>
    <text transform="translate(133.94,1845.10) scale(1.0152,1)" font-size="38.7" fill="#9c9c9c">60-100</text>
    <text transform="translate(448.73,1845.10) scale(1.0161,1)" font-size="38.7" fill="#9c9c9c">2.27s</text>
    <text transform="translate(624.03,1485.10) scale(1.0160,1)" font-size="38.7" fill="#9c9c9c">60-110</text>
    <text transform="translate(940.55,1485.10) scale(1.0159,1)" font-size="38.7" fill="#9c9c9c">3.39s</text>
    <text transform="translate(624.04,1605.10) scale(1.0152,1)" font-size="38.7" fill="#9c9c9c">60-120</text>
    <text transform="translate(940.57,1605.10) scale(1.0156,1)" font-size="38.7" fill="#9c9c9c">4.19s</text>
    <text transform="translate(624.04,1725.10) scale(1.0152,1)" font-size="38.7" fill="#9c9c9c">60-130</text>
    <text transform="translate(940.55,1725.10) scale(1.0159,1)" font-size="38.7" fill="#9c9c9c">5.09s</text>
  </svg>
</body>
</html>
